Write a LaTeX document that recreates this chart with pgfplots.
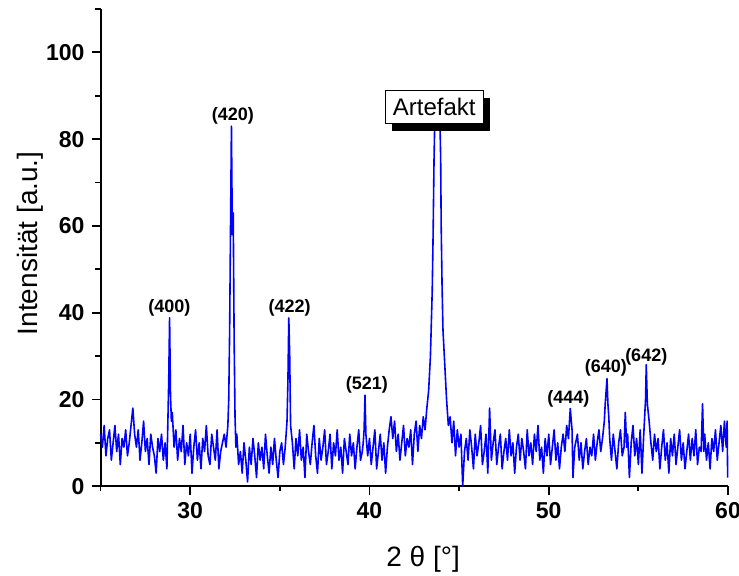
\documentclass[border=0pt]{standalone}
\usepackage{fontspec}
\setmainfont{Liberation Sans}
\usepackage{pgfplots}
\pgfplotsset{compat=1.18}
\usetikzlibrary{shadows}
\definecolor{xrdblue}{RGB}{0,0,255}

\begin{document}
\begin{tikzpicture}
\begin{axis}[
  width=313.6pt,height=238.5pt,scale only axis,
  xmin=25,xmax=60,ymin=0,ymax=110,
  axis x line*=bottom,axis y line*=left,
  axis line style={line width=1pt,-},
  xtick={30,40,50,60},minor xtick={25,35,45,55},
  ytick={0,20,...,100},minor ytick={10,30,...,110},
  tick align=outside,major tick length=4.5pt,minor tick length=2.6pt,
  every tick/.style={black,line width=0.9pt},
  /pgf/number format/assume math mode=true,
  tick label style={font=\fontsize{11.5}{13}\selectfont\bfseries},
  xlabel={2 θ [°]},ylabel={Intensität [a.u.]},
  label style={font=\fontsize{14}{16}\selectfont},
  xlabel style={at={(axis description cs:0.514,-0.153)},anchor=center},
  ylabel style={at={(axis description cs:-0.112,0.509)},anchor=center},
  clip=false,
]
\addplot[xrdblue,line width=0.8pt,line join=round] table[row sep=\\] {
x y\\
25.0 12\\ 25.1 9\\ 25.2 14\\ 25.3 7\\ 25.4 11\\ 25.5 13\\ 25.6 6\\ 25.7 10\\
25.8 14\\ 25.9 8\\ 26.0 12\\ 26.1 5\\ 26.2 11\\ 26.3 9\\ 26.4 13\\ 26.5 7\\
26.6 10\\ 26.7 14\\ 26.8 18\\ 26.9 12\\ 27.0 9\\
27.1 13\\ 27.2 6\\ 27.3 10\\ 27.4 15\\ 27.5 8\\ 27.6 11\\ 27.7 5\\ 27.8 12\\
27.9 9\\ 28.0 7\\ 28.1 3\\ 28.2 11\\ 28.3 8\\ 28.4 12\\ 28.5 6\\
28.6 10\\ 28.7 4\\ 28.75 14\\ 28.8 24\\ 28.85 38.8\\ 28.9 21\\ 28.95 15\\ 29.0 17\\
29.1 9\\ 29.2 13\\
29.3 6\\ 29.4 11\\ 29.5 8\\ 29.6 14\\ 29.7 5\\ 29.8 10\\ 29.9 7\\ 30.0 12\\
30.1 3\\ 30.2 9\\ 30.3 13\\ 30.4 6\\ 30.5 10\\ 30.6 4\\ 30.7 11\\ 30.8 8\\
30.9 14\\ 31.0 7\\ 31.1 5\\ 31.2 12\\ 31.3 9\\ 31.4 6\\ 31.5 13\\ 31.6 4\\
31.7 8\\ 31.8 10\\ 31.9 12\\
32.0 9\\ 32.1 14\\ 32.15 20\\ 32.2 36\\ 32.25 60\\ 32.3 83\\ 32.35 58\\ 32.4 63\\
32.45 34\\ 32.5 16\\ 32.55 9\\ 32.6 12\\ 32.7 5\\
32.8 8\\ 32.9 3\\ 33.0 10\\ 33.1 6\\ 33.2 1\\ 33.3 9\\ 33.4 5\\ 33.5 11\\
33.6 7\\ 33.7 2\\ 33.8 10\\ 33.9 6\\ 34.0 9\\ 34.1 4\\ 34.2 12\\ 34.3 7\\
34.4 3\\ 34.5 9\\ 34.6 5\\ 34.7 11\\ 34.8 6\\ 34.9 2\\ 35.0 8\\ 35.1 10\\
35.2 5\\ 35.3 9\\
35.4 15\\ 35.45 24\\ 35.5 38.8\\ 35.55 30\\ 35.6 14\\ 35.7 10\\
35.8 4\\ 35.9 11\\ 36.0 7\\ 36.1 13\\ 36.2 6\\ 36.3 9\\ 36.4 2\\ 36.5 12\\
36.6 8\\ 36.7 5\\ 36.8 10\\ 36.9 14\\ 37.0 7\\ 37.1 3\\ 37.2 11\\ 37.3 6\\
37.4 9\\ 37.5 13\\ 37.6 5\\ 37.7 8\\ 37.8 12\\ 37.9 4\\ 38.0 10\\ 38.1 7\\
38.2 13\\ 38.3 6\\ 38.4 9\\ 38.5 3\\ 38.6 11\\ 38.7 8\\ 38.8 5\\ 38.9 12\\
39.0 7\\ 39.1 10\\ 39.2 4\\ 39.3 9\\ 39.4 13\\ 39.5 6\\ 39.6 8\\
39.65 10\\ 39.7 13\\ 39.75 21\\ 39.8 12\\ 39.9 7\\
40.0 11\\ 40.1 5\\ 40.2 9\\ 40.3 13\\ 40.4 4\\ 40.5 8\\ 40.6 12\\ 40.7 6\\
40.8 10\\ 40.9 3\\
41.0 9\\ 41.1 13\\ 41.2 16\\ 41.3 11\\ 41.4 15\\ 41.5 8\\
41.6 12\\ 41.7 6\\ 41.8 10\\ 41.9 14\\ 42.0 7\\ 42.1 11\\ 42.2 9\\ 42.3 13\\
42.4 5\\ 42.5 12\\ 42.6 15\\ 42.7 8\\ 42.8 14\\ 42.9 11\\ 43.0 16\\ 43.1 13\\
43.2 18\\
43.3 22\\ 43.4 30\\ 43.5 45\\ 43.55 58\\ 43.6 75\\ 43.65 86\\ 43.75 89\\ 43.85 89\\
43.92 86\\ 43.97 76\\ 44.0 60\\ 44.05 46\\ 44.1 36\\ 44.2 28\\ 44.3 20\\ 44.4 14\\
44.5 16\\ 44.6 10\\ 44.7 15\\ 44.8 7\\ 44.9 13\\ 45.0 9\\ 45.1 12\\ 45.2 0\\
45.3 8\\
45.4 11\\ 45.5 6\\ 45.6 13\\ 45.7 9\\ 45.8 4\\ 45.9 12\\ 46.0 7\\ 46.1 10\\
46.2 14\\ 46.3 5\\ 46.4 8\\ 46.5 12\\ 46.6 3\\ 46.7 18\\ 46.8 6\\ 46.9 10\\
47.0 13\\ 47.1 5\\ 47.2 9\\ 47.3 12\\ 47.4 4\\ 47.5 8\\ 47.6 11\\ 47.7 6\\
47.8 13\\ 47.9 7\\ 48.0 10\\ 48.1 3\\ 48.2 9\\ 48.3 12\\ 48.4 6\\ 48.5 11\\
48.6 8\\ 48.7 4\\ 48.8 13\\ 48.9 7\\ 49.0 10\\ 49.1 5\\ 49.2 12\\ 49.3 8\\
49.4 14\\ 49.5 6\\ 49.6 9\\ 49.7 3\\ 49.8 11\\ 49.9 7\\ 50.0 12\\ 50.1 5\\
50.2 9\\ 50.3 13\\ 50.4 6\\ 50.5 10\\ 50.6 4\\
50.7 9\\ 50.8 12\\ 50.9 8\\ 51.0 14\\ 51.1 11\\ 51.2 17.9\\ 51.3 13\\ 51.35 2\\
51.45 9\\
51.6 12\\ 51.7 6\\ 51.8 10\\ 51.9 4\\ 52.0 8\\ 52.1 11\\ 52.2 5\\ 52.3 9\\
52.4 7\\ 52.5 12\\ 52.6 6\\ 52.7 10\\ 52.8 13\\ 52.9 8\\ 53.0 11\\
53.1 15\\ 53.15 19\\ 53.25 24.8\\ 53.3 19\\ 53.35 16\\ 53.4 11\\
53.5 6\\ 53.6 12\\ 53.7 8\\ 53.8 4\\ 53.9 10\\ 54.0 13\\ 54.1 7\\ 54.2 9\\
54.27 17\\ 54.35 9\\ 54.4 12\\ 54.5 2\\ 54.6 10\\ 54.7 14\\ 54.8 7\\ 54.9 11\\
55.0 5\\ 55.1 13\\ 55.2 3\\
55.3 12\\ 55.4 20\\ 55.44 28\\ 55.5 19\\ 55.6 15\\ 55.7 10\\
55.8 6\\ 55.9 12\\ 56.0 8\\ 56.1 11\\ 56.2 4\\ 56.3 9\\ 56.4 13\\ 56.5 6\\
56.6 10\\ 56.7 3\\ 56.8 11\\ 56.9 7\\ 57.0 12\\ 57.1 5\\ 57.2 9\\ 57.3 13\\
57.4 6\\ 57.5 10\\ 57.6 4\\ 57.7 8\\ 57.8 12\\ 57.9 6\\ 58.0 11\\ 58.1 7\\
58.2 13\\ 58.3 5\\ 58.4 9\\ 58.5 8\\ 58.58 19\\ 58.65 8\\ 58.7 12\\ 58.8 6\\
58.9 10\\ 59.0 4\\ 59.1 11\\ 59.2 8\\ 59.3 13\\ 59.4 6\\ 59.5 10\\ 59.6 14\\
59.7 8\\ 59.8 15\\ 59.9 9\\ 59.95 15\\ 59.98 2\\
};
\begin{scope}[font=\fontsize{9}{10}\selectfont\bfseries]
\node at (axis cs:28.84,41.2) {(400)};
\node at (axis cs:32.38,85.3) {(420)};
\node at (axis cs:35.54,41.2) {(422)};
\node at (axis cs:39.86,23.3) {(521)};
\node at (axis cs:51.10,20.2) {(444)};
\node at (axis cs:53.19,27.35) {(640)};
\node at (axis cs:55.44,29.8) {(642)};
\end{scope}
\node[draw=black,line width=0.5pt,fill=white,font=\fontsize{12}{14}\selectfont,
  minimum width=49pt,minimum height=16.5pt,inner sep=2pt,
  drop shadow={shadow xshift=3.5pt,shadow yshift=-3.5pt,opacity=1,fill=black}]
  at (axis cs:43.61,87.4) {Artefakt};
\coordinate (bbsw) at (rel axis cs:-0.1603,-0.1866);
\coordinate (bbne) at (rel axis cs:1.0175,1.0189);
\end{axis}
\pgfresetboundingbox
\useasboundingbox (bbsw) rectangle (bbne);
\end{tikzpicture}
\end{document}
